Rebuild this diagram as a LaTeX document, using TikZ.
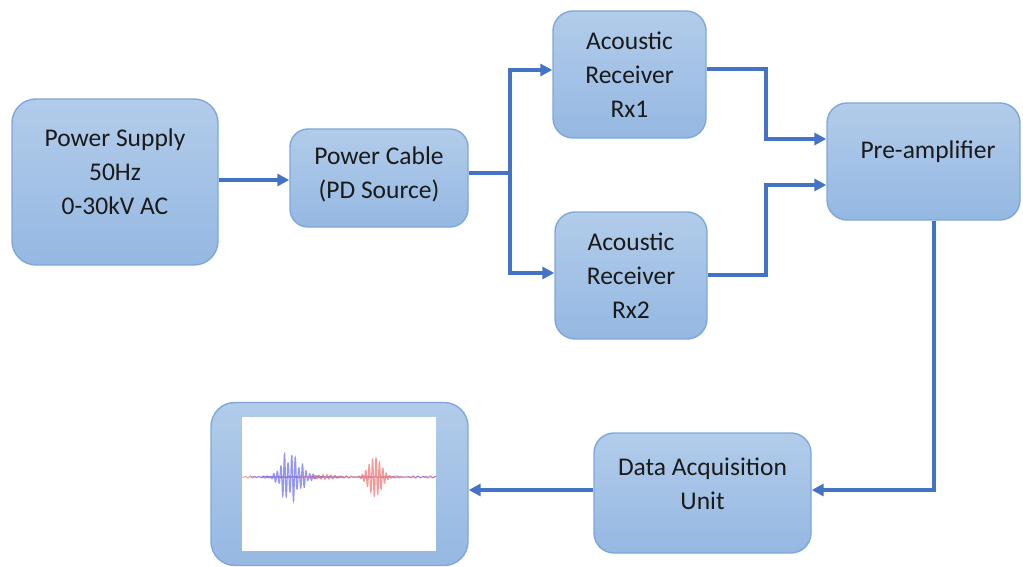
\documentclass[tikz,border=0pt]{standalone}
\usepackage{fontspec}
\setmainfont{Carlito}
\usetikzlibrary{arrows.meta}
\definecolor{boxtop}{HTML}{B2CCEA}
\definecolor{boxbot}{HTML}{95B8E2}
\definecolor{boxline}{HTML}{7FA7DB}
\definecolor{arrowc}{HTML}{4472C4}
\definecolor{txtc}{HTML}{1A1A1A}
\definecolor{wblue}{HTML}{6A6AF0}
\definecolor{wred}{HTML}{F07A7A}
\begin{document}
\begin{tikzpicture}[x=1pt,y=-1pt,
  box/.style={draw=boxline, line width=1.4pt, top color=boxtop, bottom color=boxbot, inner sep=0pt, rounded corners=#1},
  box/.default=20pt,
  txt/.style={font=\fontsize{25.5}{34}\selectfont, align=center, text=txtc, inner sep=0pt},
  con/.style={draw=arrowc, line width=3.2pt, -{Triangle[length=12pt,width=12pt]}},
  conline/.style={draw=arrowc, line width=3.2pt}]
\useasboundingbox (0,0) rectangle (1023,567);
% boxes
\node[box=24pt, minimum width=206pt, minimum height=166pt] (ps) at (115,182) {};
\node[box=18pt, minimum width=178pt, minimum height=98pt] (pc) at (379,178) {};
\node[box=20pt, minimum width=153pt, minimum height=127pt] (rx1) at (629.5,74.5) {};
\node[box=20pt, minimum width=152pt, minimum height=127pt] (rx2) at (631,275.5) {};
\node[box=20pt, minimum width=193pt, minimum height=117pt] (pa) at (923.5,161.5) {};
\node[box=20pt, minimum width=217pt, minimum height=120pt] (daq) at (702.5,493) {};
\node[box=24pt, minimum width=257pt, minimum height=163pt] (sc) at (339.5,484) {};
% texts
\node[txt] (psT) at (115,172) {Power Supply\\50Hz\\0-30kV AC};
\node[txt] (pcT) at (379,174.5) {Power Cable\\(PD Source)};
\node[txt] (rx1T) at (629.5,75) {Acoustic\\Receiver\\Rx1};
\node[txt] (rx2T) at (631,276) {Acoustic\\Receiver\\Rx2};
\node[txt] (paT) at (928,152) {Pre-amplifier};
\node[txt] (daqT) at (702.5,483.5) {Data Acquisition\\Unit};
% screen
\node[fill=white, draw=none, inner sep=0pt, minimum width=194pt, minimum height=134pt] (scr) at (339,484) {};
\begin{scope}
\clip (scr.north west) rectangle (scr.south east);
\draw[wred, line width=0.9pt, opacity=0.8] plot[domain=242:436, samples=500] (\x, {477+1.2*sin((\x-242)*75)*sin((\x-242)*11)});
\draw[wblue, line width=0.8pt, opacity=0.7] plot[domain=250:436, samples=500] (\x, {477+1.0*sin((\x-250)*68+30)*sin((\x-250)*7)});
\draw[wblue, line width=1.2pt, opacity=0.7] plot[domain=262:340, samples=700] (\x, {477-27*exp(-((\x-288)/(\x<288 ? 10 : 17))^2)*sin((\x-262)*100)*(0.75+0.25*sin((\x-262)*37))});
\draw[wred, line width=1.2pt, opacity=0.75] plot[domain=358:395, samples=400] (\x, {477-19*exp(-((\x-375)/9)^2)*sin((\x-358)*105)});
\draw[wred, line width=0.8pt, opacity=0.8] plot[domain=300:360, samples=300] (\x, {477+2.5*exp(-((\x-325)/15)^2)*sin((\x-300)*90)});
\end{scope}
% connectors
\draw[con] (ps.east |- 0,180) -- (pc.west |- 0,180);
\coordinate (j) at (510,173);
\draw[conline] (pc.east |- 0,173) -- (j);
\draw[con] (j) |- (rx1.west |- 0,70);
\draw[con] (j) |- (rx2.west |- 0,273);
\coordinate (m1) at (766,69);
\coordinate (m2) at (766,275);
\draw[con] (rx1.east |- 0,69) -- (m1) |- (pa.west |- 0,139);
\draw[con] (rx2.east |- 0,275) -- (m2) |- (pa.west |- 0,185);
\draw[con] (pa.south -| 934,0) |- (daq.east |- 0,490);
\draw[con] (daq.west |- 0,490) -- (sc.east |- 0,490);
\end{tikzpicture}
\end{document}
